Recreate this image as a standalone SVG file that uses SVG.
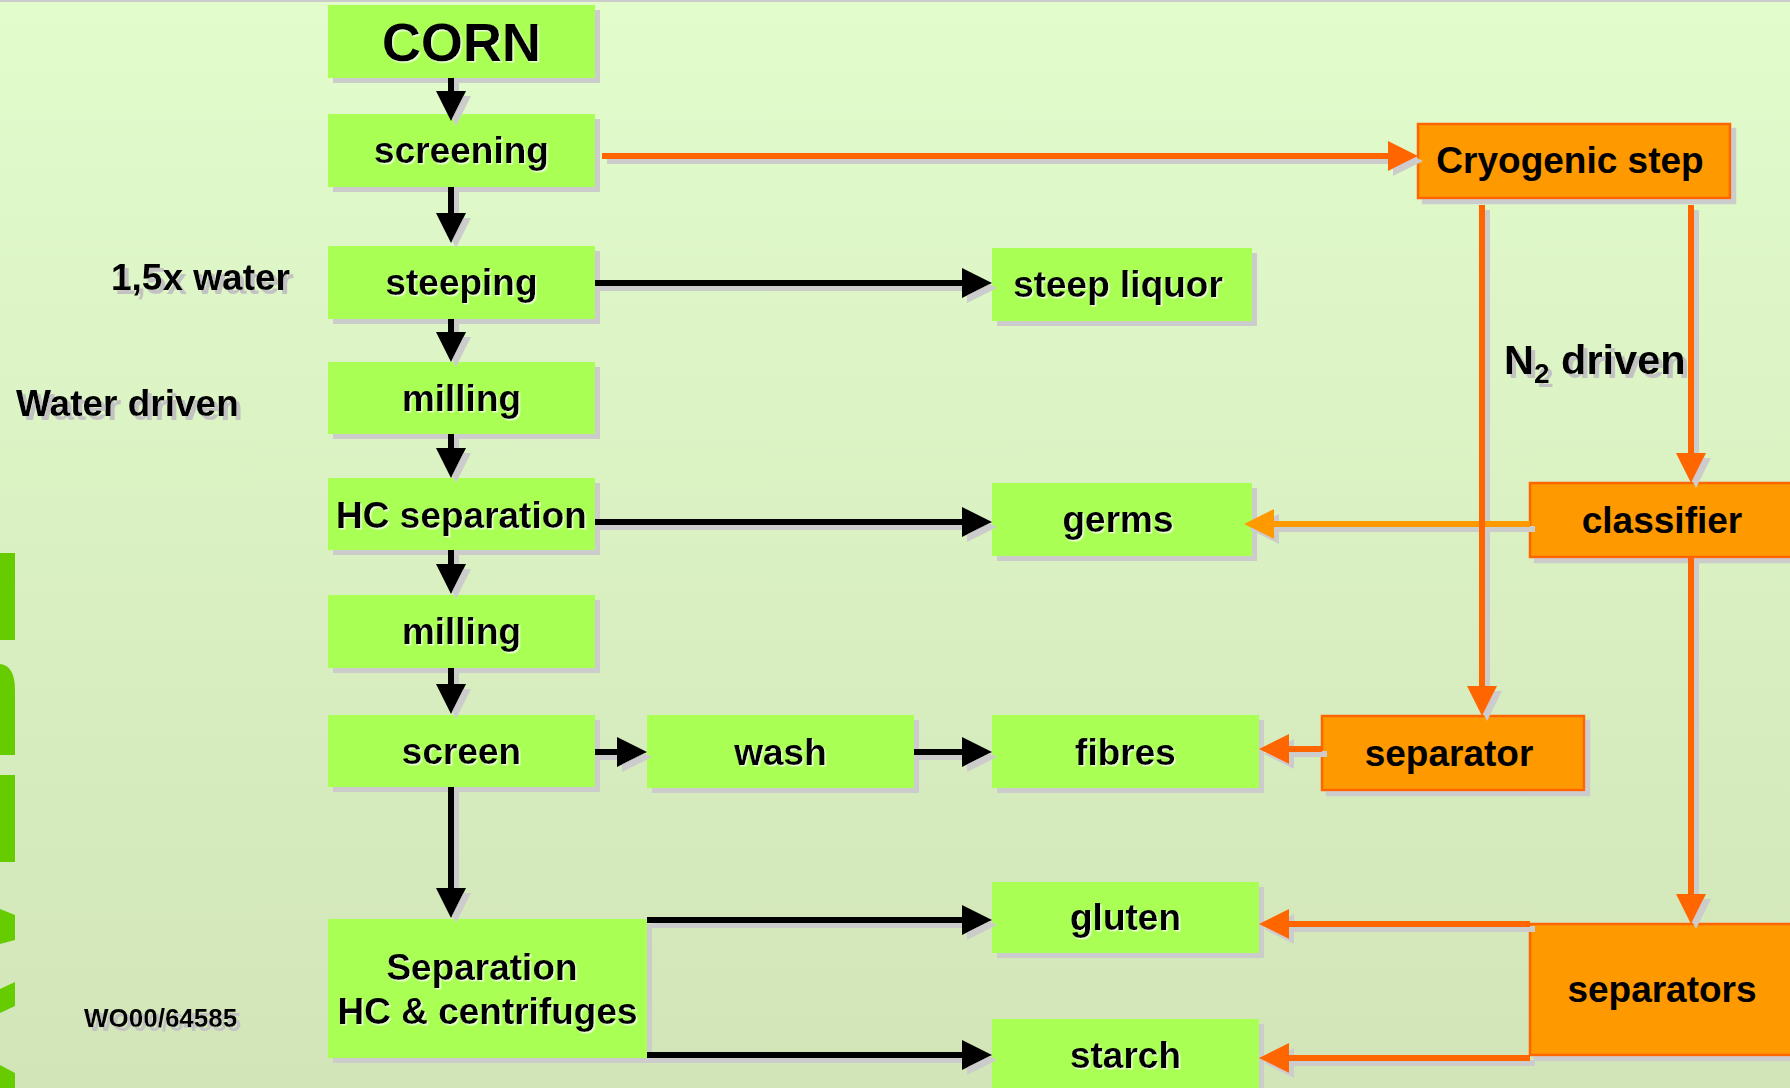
<svg xmlns="http://www.w3.org/2000/svg" width="1790" height="1088" viewBox="0 0 1790 1088">
<defs>
<linearGradient id="bg" x1="0" y1="0" x2="0" y2="1">
<stop offset="0" stop-color="#e2fccc"/>
<stop offset="1" stop-color="#d2e5b8"/>
</linearGradient>
<filter id="sh" filterUnits="userSpaceOnUse" x="0" y="0" width="1800" height="1100">
<feDropShadow dx="5" dy="5" stdDeviation="0" flood-color="#cccccc" flood-opacity="1"/>
</filter>
<filter id="tsh" filterUnits="userSpaceOnUse" x="0" y="0" width="1800" height="1100">
<feDropShadow dx="4" dy="4" stdDeviation="0" flood-color="#c2c2c2" flood-opacity="1"/>
</filter>
<filter id="wsh" filterUnits="userSpaceOnUse" x="0" y="0" width="1800" height="1100">
<feDropShadow dx="1.5" dy="1.5" stdDeviation="0" flood-color="#ffffff" flood-opacity="0.75"/>
</filter>
<marker id="ab" markerUnits="userSpaceOnUse" viewBox="0 0 30 30" markerWidth="30" markerHeight="30" refX="1" refY="15" orient="auto" overflow="visible">
<path d="M0,0 L30,15 L0,30 Z" fill="#000000"/>
</marker>
<marker id="ao" markerUnits="userSpaceOnUse" viewBox="0 0 30 30" markerWidth="30" markerHeight="30" refX="1" refY="15" orient="auto" overflow="visible">
<path d="M0,0 L30,15 L0,30 Z" fill="#ff6600"/>
</marker>
<marker id="al" markerUnits="userSpaceOnUse" viewBox="0 0 30 30" markerWidth="30" markerHeight="30" refX="1" refY="15" orient="auto" overflow="visible">
<path d="M0,0 L30,15 L0,30 Z" fill="#ff9900"/>
</marker>
<style>
text{font-family:"Liberation Sans",Arial,Helvetica,sans-serif;font-weight:bold;fill:#000000}
.g{fill:#aaff55;filter:url(#sh)}
.o{fill:#ff9900;stroke:#ff6600;stroke-width:2.5;filter:url(#sh)}
.t{font-size:37px;text-anchor:middle;filter:url(#wsh)}
.to{font-size:37px;text-anchor:middle}
.lbl{font-size:37px;filter:url(#tsh)}
.cb{fill:none;stroke:#000000;stroke-width:6;marker-end:url(#ab)}
.co{fill:none;stroke:#ff6600;stroke-width:6;marker-end:url(#ao)}
.cl{fill:none;stroke:#ff9900;stroke-width:6;marker-end:url(#al)}
.deco{fill:#66cc00}
</style>
</defs>

<rect x="0" y="0" width="1790" height="1088" fill="url(#bg)"/>
<rect x="0" y="0" width="1790" height="2" fill="#cccccc"/>

<g id="decoration">
<rect class="deco" x="0" y="553" width="15" height="87"/>
<path class="deco" d="M0,664 C10,665 15,674 15,690 L15,755 L0,755 Z"/>
<rect class="deco" x="0" y="775" width="15" height="87"/>
<polygon class="deco" points="0,909 15,915 15,940 0,944"/>
<polygon class="deco" points="0,989 15,982 15,1006 0,1013"/>
<polygon class="deco" points="0,1065 15,1073 15,1088 0,1088"/>
</g>

<g id="labels">
<text class="lbl" x="111" y="290">1,5x water</text>
<text class="lbl" x="16" y="416">Water driven</text>
<text class="lbl" x="1504" y="374" style="font-size:41.5px">N<tspan style="font-size:28px" dy="9">2</tspan><tspan dy="-9"> driven</tspan></text>
<text class="lbl" x="84" y="1027" style="font-size:26px">WO00/64585</text>
</g>

<g id="node-corn"><rect class="g" x="328" y="5" width="267" height="73"/><text class="t" x="461.5" y="61" style="font-size:54px">CORN</text></g>
<g id="node-screening"><rect class="g" x="328" y="114" width="267" height="73"/><text class="t" x="461.5" y="163">screening</text></g>
<g id="node-steeping"><rect class="g" x="328" y="246" width="267" height="73"/><text class="t" x="461.5" y="295">steeping</text></g>
<g id="node-milling1"><rect class="g" x="328" y="362" width="267" height="72"/><text class="t" x="461.5" y="411">milling</text></g>
<g id="node-hcsep"><rect class="g" x="328" y="478" width="267" height="72"/><text class="t" x="461.5" y="528">HC separation</text></g>
<g id="node-milling2"><rect class="g" x="328" y="595" width="267" height="73"/><text class="t" x="461.5" y="644">milling</text></g>
<g id="node-screen"><rect class="g" x="328" y="715" width="267" height="72"/><text class="t" x="461.5" y="764">screen</text></g>
<g id="node-separation"><rect class="g" x="328" y="919" width="319" height="139"/><text class="t" x="482" y="980">Separation</text><text class="t" x="487.5" y="1024">HC &amp; centrifuges</text></g>
<g id="node-steepliquor"><rect class="g" x="992" y="248" width="260" height="73"/><text class="t" x="1118" y="297">steep liquor</text></g>
<g id="node-germs"><rect class="g" x="992" y="483" width="260" height="73"/><text class="t" x="1118" y="532">germs</text></g>
<g id="node-wash"><rect class="g" x="647" y="715" width="267" height="73"/><text class="t" x="780.5" y="765">wash</text></g>
<g id="node-fibres"><rect class="g" x="992" y="715" width="267" height="73"/><text class="t" x="1125.5" y="765">fibres</text></g>
<g id="node-gluten"><rect class="g" x="992" y="882" width="267" height="71"/><text class="t" x="1125.5" y="930">gluten</text></g>
<g id="node-starch"><rect class="g" x="992" y="1019" width="267" height="73"/><text class="t" x="1125.5" y="1068">starch</text></g>
<g id="node-cryogenic"><rect class="o" x="1418" y="124" width="312" height="74"/><text class="to" x="1570" y="173">Cryogenic step</text></g>
<g id="node-classifier"><rect class="o" x="1530" y="483" width="266" height="74"/><text class="to" x="1662" y="533">classifier</text></g>
<g id="node-separator"><rect class="o" x="1322" y="716" width="262" height="74"/><text class="to" x="1449" y="766">separator</text></g>
<g id="node-separators"><rect class="o" x="1530" y="924" width="266" height="131"/><text class="to" x="1662" y="1002">separators</text></g>

<g id="connectors" filter="url(#sh)">
<path class="cb" d="M451,78 V92"/>
<path class="cb" d="M451,187 V214"/>
<path class="cb" d="M451,319 V333"/>
<path class="cb" d="M451,434 V449"/>
<path class="cb" d="M451,550 V565"/>
<path class="cb" d="M451,668 V685"/>
<path class="cb" d="M451,787 V889"/>
<path class="cb" d="M595,283 H963"/>
<path class="cb" d="M595,522 H963"/>
<path class="cb" d="M595,752 H618"/>
<path class="cb" d="M914,752 H963"/>
<path class="cb" d="M647,920 H963"/>
<path class="cb" d="M647,1055 H963"/>
<path class="co" d="M602,156 H1389"/>
<path class="cl" d="M1530,524 H1273"/>
<path class="co" d="M1482,205 V687"/>
<path class="co" d="M1691,205 V454"/>
<path class="co" d="M1691,557 V895"/>
<path class="co" d="M1322,749 H1288"/>
<path class="co" d="M1530,924 H1288"/>
<path class="co" d="M1530,1058 H1288"/>
</g>
</svg>
